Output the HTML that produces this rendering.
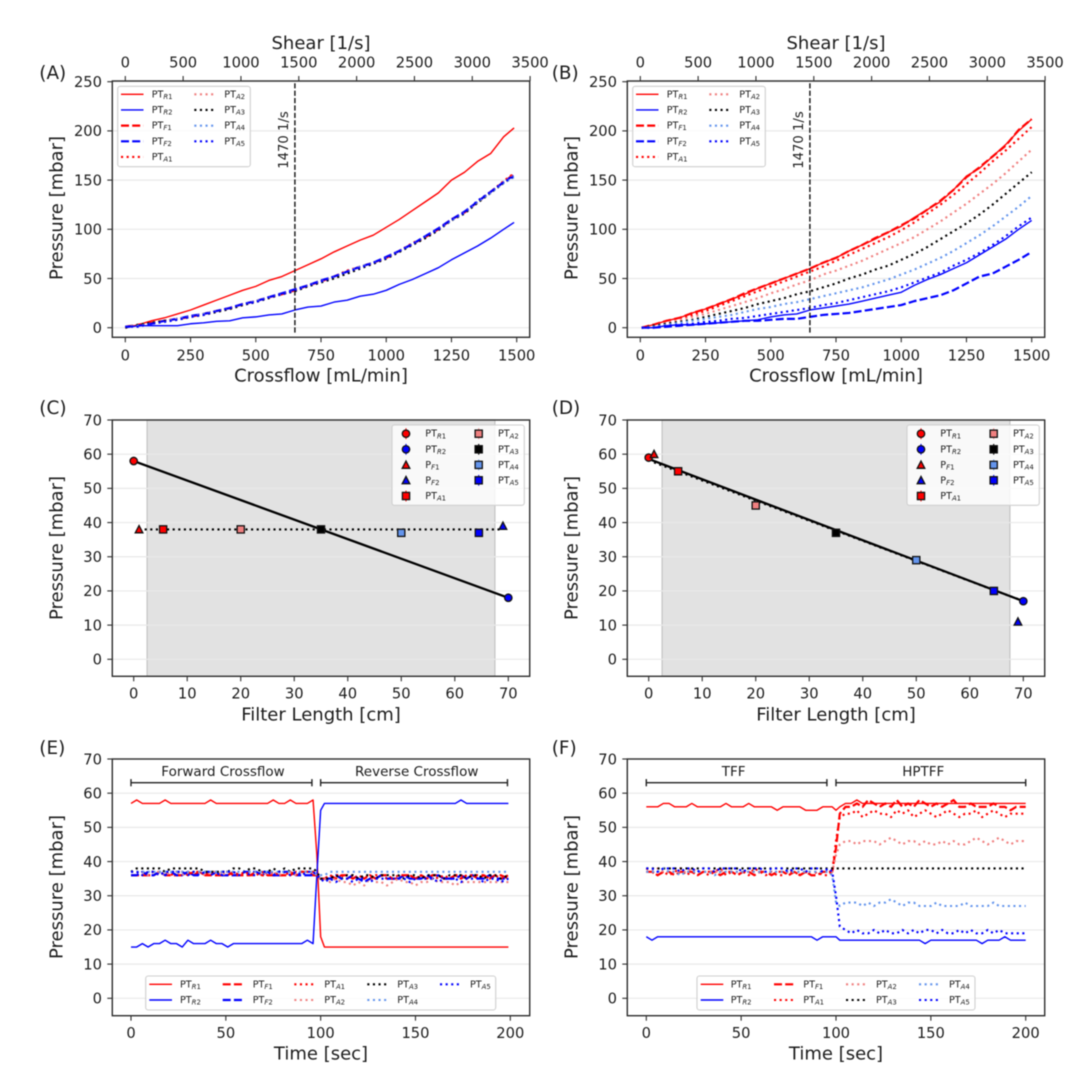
<!DOCTYPE html>
<html lang="en">
<head>
<meta charset="utf-8">
<title>Pressure profiles for crossflow filtration</title>
<style>
html,body{margin:0;padding:0;background:#fff;width:1080px;height:1080px;overflow:hidden}
svg{display:block;filter:blur(0.6px)}
text{font-family:"DejaVu Sans","Liberation Sans",sans-serif;fill:#1c1c1c}
</style>
</head>
<body>
<svg id="figure" xmlns="http://www.w3.org/2000/svg" width="1080" height="1080" viewBox="0 0 1080 1080">
<rect x="0" y="0" width="1080" height="1080" fill="#ffffff"/>
<g id="panel-a"></g>
<g id="panel-b"></g>
<g id="panel-c"></g>
<g id="panel-d"></g>
<g id="panel-e"></g>
<g id="panel-f"></g>
</svg>
<script>
/* ---------- tick labels ---------- */
const crossflowTicks = [0,250,500,750,1000,1250,1500];
const shearTicks = [0,500,1000,1500,2000,2500,3000,3500];
const pressureTicksWide = [0,50,100,150,200,250];
const pressureTicksNarrow = [0,10,20,30,40,50,60,70];
const lengthTicks = [0,10,20,30,40,50,60,70];
const timeTicks = [0,50,100,150,200];

/* ---------- panel A: crossflow sweep ---------- */
const crossflowA = [0,50,100,150,200,250,300,350,400,450,500,550,600,650,700,750,800,850,900,950,1000,1050,1100,1150,1200,1250,1300,1350,1400,1450,1490];
const aR1 = [0,3,7,10,14,18,23,28,33,38,42,48,52,58,64,70,77,83,89,94,102,110,119,128,137,150,158,169,177,194,203];
const aR2 = [0,2,2,2,2,4,5,6.5,7,10,11,13,14,18,21,22,26,28,32,34,38,44,49,55,61,69,76,83,91,100,107];
const aF1 = [1,3,5,7,9,11,14,17,20,24,27,31,34,38,43,47,52,57,62,66,71,78,85,92,100,110,117,128,138,148,156];
const aF2 = [1,2,4,7,9,12,14,17,20,24,27,31,35,39,43,48,52,57,62,66,72,78,85,93,101,110,118,128,138,148,155];
const aA1 = [0,3,5,7,9,11,14,17,20,23,27,31,34,38,43,47,52,58,62,66,71,78,86,92,100,110,117,128,138,149,157];
const aA2 = [1,3,5,7,9,11,14,17,19,23,27,30,34,38,42,47,52,57,62,65,71,78,85,92,100,109,117,127,137,148,155];
const aA3 = [0,3,5,7,8,11,13,16,19,23,26,30,34,37,42,46,50,55,60,65,70,77,84,91,99,109,116,127,137,147,154];
const aA4 = [1,2,4,6,9,11,14,17,20,24,27,31,34,38,43,47,52,57,62,66,71,78,85,93,100,109,117,128,137,147,153];
const aA5 = [1,1,4,6,8,11,13,17,20,24,26,31,34,38,43,47,52,57,61,66,71,78,85,93,100,110,117,129,138,148,154];

/* ---------- panel B: crossflow sweep ---------- */
const crossflowB = [5,50,100,150,200,250,300,350,400,450,500,550,600,650,700,750,800,850,900,950,1000,1050,1100,1150,1200,1250,1300,1350,1400,1450,1500];
const bR1 = [0,3,7,10,15,19,24,29,34,40,45,50,55,60,66,71,78,84,90,97,103,112,120,128,140,154,162,174,186,200,212];
const bR2 = [0,0,2,3,3,4,5,6,7,8,11,13,14,18,20,22,24,27,30,33,36,43,49,54,60,66,74,82,90,100,109];
const bF1 = [0,3,7,10,15,19,24,29,35,40,45,50,55,60,66,71,78,84,91,97,104,111,120,129,140,153,163,174,185,201,212];
const bF2 = [0,0,1,2,3,4,5,6,7,7,8,9,9,11,13,14,15,17,19,21,23,27,30,33,38,45,52,55,62,69,77];
const bA1 = [0,3,6,9,13,17,22,27,32,37,42,47,52,57,62,68,74,80,86,92,99,107,116,125,135,146,157,169,180,192,204];
const bA2 = [0,2,5,8,11,14,18,22,26,30,35,39,44,48,54,58,63,68,74,80,86,92,100,108,117,126,136,146,157,169,181];
const bA3 = [0,2,4,6,8,11,14,17,20,24,27,30,34,37,41,45,50,54,59,63,69,75,82,90,98,106,115,125,136,147,158];
const bA4 = [0,1,3,5,7,9,11,13,16,19,21,24,26,29,32,35,38,41,45,49,54,59,65,71,78,86,94,103,113,123,134];
const bA5 = [0,0,2,3,4,6,7,9,10,12,14,16,18,20,23,25,28,31,34,37,41,46,51,56,63,69,76,84,93,103,112];

/* ---------- panels C and D: pressure against filter length ---------- */
const sensorLength = [0,70,1,69,5.5,20,35,50,64.5];
const cPressure = [58,18,38,39,38,38,38,37,37];
const dPressure = [59,17,60,11,55,45,37,29,20];
const cFitSolidX = [0,70];
const cFitSolidY = [58,18];
const cFitDottedX = [1,69];
const cFitDottedY = [38,38];
const dFitSolidX = [0,70];
const dFitSolidY = [58.6,17];
const dFitDottedX = [1,69];
const dFitDottedY = [57.6,17.6];

/* ---------- panel E: time traces ---------- */
const timeE = [0,3,6,9,12,15,18,21,24,27,30,33,36,39,42,45,48,51,54,57,60,63,66,69,72,75,78,81,84,87,90,93,96,98,100,102,105,108,111,114,117,120,123,126,129,132,135,138,141,144,147,150,153,156,159,162,165,168,171,174,177,180,183,186,189,192,195,199];
const eR1 = [57,58,57,57,57,57,58,57,57,57,57,57,57,57,58,57,57,57,57,57,57,57,57,57,57,58,57,57,58,57,57,57,58,42,18,15,15,15,15,15,15,15,15,15,15,15,15,15,15,15,15,15,15,15,15,15,15,15,15,15,15,15,15,15,15,15,15,15];
const eR2 = [15,15,16,15,16,16,17,16,16,15,17,16,16,16,17,16,16,15,16,16,16,16,16,16,16,16,16,16,16,16,16,17,16,36,55,57,57,57,57,57,57,57,57,57,57,57,57,57,57,57,57,57,57,57,57,57,57,57,57,58,57,57,57,57,57,57,57,57];
const eF1 = [36,36,36,36,36,37,36,36,36,36,37,36,37,36,36,36,36,36,37,36,36,36,37,36,36,36,36,36,36,37,37,37,36,36,35,35,36,35,36,36,35,36,35,36,35,36,36,35,35,36,36,35,36,35,36,36,35,35,36,35,36,36,35,36,35,36,36,35];
const eF2 = [36,36,37,36,36,37,36,37,36,36,37,36,36,37,36,37,36,36,36,36,37,37,37,36,37,36,36,37,37,36,36,36,36,36,35,35,35,36,35,35,36,35,34,35,35,36,35,35,35,36,35,35,35,36,35,36,35,35,35,36,35,36,35,35,36,35,35,35];
const eA1 = [37,37,36,37,37,36,37,36,37,37,36,37,37,36,37,36,37,37,36,36,37,36,36,37,36,37,36,36,37,36,37,37,37,36,35,35,35,36,36,35,36,35,36,35,36,36,35,35,36,36,36,35,36,35,36,35,36,35,36,36,35,36,36,36,35,36,35,36];
const eA2 = [37,37,37,36,37,37,36,37,37,36,37,37,37,36,37,37,36,37,37,36,37,37,37,36,37,37,36,37,37,36,37,37,37,36,35,35,34,35,34,34,33,34,33,35,34,34,33,34,35,34,34,33,34,34,35,34,34,34,33,34,34,34,34,34,34,34,34,34];
const eA3 = [37,38,38,38,38,38,37,38,38,38,38,38,38,37,37,37,37,37,38,38,37,38,38,37,37,38,37,38,37,38,38,38,38,37,35,35,35,36,35,36,36,35,36,36,35,36,36,36,36,35,36,36,35,36,36,36,35,36,36,36,35,36,36,35,36,36,35,36];
const eA4 = [37,37,37,37,37,37,37,37,37,37,37,37,37,37,37,37,37,37,37,37,37,37,37,37,37,37,37,37,37,37,37,37,37,36,36,36,37,37,37,37,37,37,37,37,37,37,37,37,37,37,37,37,37,37,37,37,37,37,37,37,37,37,37,37,37,37,37,37];
const eA5 = [37,37,36,37,37,36,37,37,37,37,36,37,36,37,37,36,37,37,37,36,37,36,36,37,37,36,37,37,36,37,36,37,37,36,35,34,35,34,35,35,34,35,35,34,35,35,35,35,35,35,34,35,35,35,35,34,35,35,35,34,35,35,35,34,35,35,34,35];

/* ---------- panel F: time traces ---------- */
const timeF = [0,3,6,9,12,15,18,21,24,27,30,33,36,39,42,45,48,51,54,57,60,63,66,69,72,75,78,81,84,87,90,93,96,98,100,102,105,108,111,114,117,120,123,126,129,132,135,138,141,144,147,150,153,156,159,162,165,168,171,174,177,180,183,186,189,192,195,200];
const fR1 = [56,56,56,57,57,56,56,56,57,56,56,56,56,56,57,56,56,56,57,56,56,56,56,55,56,56,56,56,55,55,55,56,56,56,55,56,57,57,58,57,57,57,57,57,57,57,57,57,57,57,57,57,57,57,57,57,57,57,57,57,57,57,57,57,57,57,57,57];
const fR2 = [18,17,18,18,18,18,18,18,18,18,18,18,18,18,18,18,18,18,18,18,18,18,18,18,18,18,18,18,18,18,17,18,18,18,18,17,17,17,17,17,17,17,17,17,17,17,17,17,17,17,16,17,17,17,17,17,17,17,17,17,16,17,17,17,18,17,17,17];
const fF1 = [37,37,36,37,37,36,37,37,37,36,37,37,37,36,37,37,36,37,37,36,37,37,36,37,37,36,37,36,37,36,36,37,37,37,44,54,56,56,57,56,58,57,56,57,56,58,56,57,56,58,57,56,57,56,57,58,56,56,57,56,56,56,57,56,56,55,56,56];
const fA1 = [38,37,36,37,36,37,38,36,37,36,37,36,37,38,36,37,36,37,36,38,37,36,37,36,36,37,37,36,37,36,37,36,36,37,46,53,54,54,55,53,54,55,54,54,53,55,54,55,53,54,55,54,53,54,55,54,53,54,54,55,53,54,55,54,53,54,54,54];
const fA2 = [37,37,38,37,37,37,37,37,38,37,37,37,37,37,38,37,37,37,37,37,37,37,37,37,37,37,37,37,37,37,37,37,37,37,42,45,46,46,45,46,46,46,45,46,47,46,45,46,46,45,46,45,45,46,45,46,45,45,46,47,46,45,46,47,46,45,46,46];
const fA3 = [38,38,38,38,38,38,38,38,38,38,38,38,38,38,38,38,38,38,38,38,38,38,38,38,38,38,38,38,38,38,38,38,38,38,38,38,38,38,38,38,38,38,38,38,38,38,38,38,38,38,38,38,38,38,38,38,38,38,38,38,38,38,38,38,38,38,38,38];
const fA4 = [37,37,37,38,37,37,36,37,37,37,37,37,36,37,37,37,37,37,37,37,37,37,37,37,37,37,37,37,37,37,37,37,37,36,28,27,28,28,28,27,28,27,28,28,29,28,27,28,28,27,27,27,28,27,27,27,27,28,27,27,27,27,28,27,27,27,27,27];
const fA5 = [38,38,37,38,38,38,37,38,38,37,38,38,37,38,38,38,38,37,38,38,38,37,38,38,38,37,38,38,37,38,38,37,38,37,30,21,20,19,20,19,19,20,19,20,19,19,20,19,20,19,20,20,19,20,19,19,20,19,20,19,19,20,19,20,19,19,19,19];

/* ---------- helpers ---------- */
const NS = 'http://www.w3.org/2000/svg';
const RED = '#ff0000', BLUE = '#0000ff', CORAL = '#f08080', BLACK = '#000000', SKY = '#6495ed';
const DASH = '8 3.2', DOT = '2.1 3.5';
const INK = '#2e2e2e';

function mk(parent, tag, attrs, name) {
  const el = document.createElementNS(NS, tag);
  for (const k in attrs) el.setAttribute(k, attrs[k]);
  
  
  parent.appendChild(el);
  return el;
}
function scale(d0, d1, r0, r1) { return v => r0 + (v - d0) * (r1 - r0) / (d1 - d0); }
function label(parent, str, x, y, size, anchor, name) {
  const t = mk(parent, 'text', {x: x, y: y, 'font-size': size, 'text-anchor': anchor}, name);
  t.textContent = str;
  return t;
}
function rotLabel(parent, str, x, y, size, name) {
  const t = mk(parent, 'text', {transform: 'translate(' + x + ',' + y + ') rotate(-90)', 'font-size': size, 'text-anchor': 'middle'}, name);
  t.textContent = str;
  return t;
}
function seg(parent, x1, y1, x2, y2, color, w, name) {
  return mk(parent, 'line', {x1: x1, y1: y1, x2: x2, y2: y2, stroke: color, 'stroke-width': w}, name);
}
function drawLine(g, xs, ys, sx, sy, st, name) {
  const pts = [];
  for (let i = 0; i < ys.length && i < xs.length; i++) pts.push(sx(xs[i]).toFixed(2) + ',' + sy(ys[i]).toFixed(2));
  const attrs = {points: pts.join(' '), fill: 'none', stroke: st.c, 'stroke-width': st.w, 'stroke-linejoin': 'round'};
  if (st.d) attrs['stroke-dasharray'] = st.d;
  return mk(g, 'polyline', attrs, name);
}
function drawMarker(g, kind, px, py, fill, name) {
  const common = {fill: fill, stroke: '#111111', 'stroke-width': 1.3};
  if (kind === 'o') return mk(g, 'circle', Object.assign({cx: px, cy: py, r: 3.7}, common), name);
  if (kind === 's') return mk(g, 'rect', Object.assign({x: px - 3.6, y: py - 3.6, width: 7.2, height: 7.2}, common), name);
  return mk(g, 'polygon', Object.assign({points: (px - 3.8) + ',' + (py + 3.4) + ' ' + (px + 3.8) + ',' + (py + 3.4) + ' ' + px + ',' + (py - 3.9)}, common), name);
}
function legendText(g, x, y, main, sub, name) {
  const t = mk(g, 'text', {x: x, y: y, 'font-size': 9.6}, name);
  t.appendChild(document.createTextNode(main));
  const a = document.createElementNS(NS, 'tspan');
  a.setAttribute('font-size', 6.9);
  a.setAttribute('font-style', 'italic');
  a.setAttribute('dy', 1.6);
  a.textContent = sub[0];
  t.appendChild(a);
  const b = document.createElementNS(NS, 'tspan');
  b.setAttribute('font-size', 6.9);
  b.textContent = sub.slice(1);
  t.appendChild(b);
}
function legendBox(g, x0, y0, x1, y1) {
  const lg = mk(g, 'g', {}, 'legend');
  mk(lg, 'rect', {x: x0, y: y0, width: x1 - x0, height: y1 - y0, rx: 2.5, fill: '#ffffff', 'fill-opacity': 0.8, stroke: '#cfcfcf', 'stroke-width': 1.1}, 'legend-frame');
  return lg;
}
function lineLegend(g, box, entries) {
  const lg = legendBox(g, box[0], box[1], box[2], box[3]);
  entries.forEach(e => {
    const it = mk(lg, 'g', {}, 'legend-entry-' + e.sub.toLowerCase());
    const attrs = {x1: e.hx, x2: e.hx + e.hw, y1: e.y, y2: e.y, stroke: e.st.c, 'stroke-width': e.st.w};
    if (e.st.d) attrs['stroke-dasharray'] = e.st.d;
    mk(it, 'line', attrs, 'legend-handle');
    legendText(it, e.tx, e.y + 3, 'PT', e.sub, 'legend-label');
  });
}
function axisFrame(g, p) {
  const grid = mk(g, 'g', {}, 'grid-lines');
  p.yTicks.forEach(v => seg(grid, p.L, p.sy(v), p.R, p.sy(v), '#e9e9e9', 1.2, 'grid-line'));
  const xa = mk(g, 'g', {}, 'x-axis');
  p.xTicks.forEach(v => {
    seg(xa, p.sx(v), p.B, p.sx(v), p.B + 5, INK, 1.1, 'x-tick');
    label(xa, String(v), p.sx(v), p.xTickY, 14.7, 'middle', 'x-tick-label');
  });
  label(xa, p.xLabel, (p.L + p.R) / 2, p.xLabelY, 18, 'middle', 'x-axis-title');
  const ya = mk(g, 'g', {}, 'y-axis');
  p.yTicks.forEach(v => {
    seg(ya, p.L - 5, p.sy(v), p.L, p.sy(v), INK, 1.1, 'y-tick');
    label(ya, String(v), p.L - 10.3, p.sy(v) + 5.3, 14.7, 'end', 'y-tick-label');
  });
  rotLabel(ya, 'Pressure [mbar]', p.L - 50, p.yLabelY, 18, 'y-axis-title');
  label(g, p.tag, p.tagX, p.tagY, 18.4, 'start', 'panel-label');
}
function spines(g, p) {
  mk(g, 'rect', {x: p.L, y: p.T, width: p.R - p.L, height: p.B - p.T, fill: 'none', stroke: INK, 'stroke-width': 1.4}, 'axes-frame');
}

/* ---------- panel geometry ---------- */
function base(offsetX, T, B, yTop, yZero) {
  return {L: 112.3 + offsetX, R: 529.7 + offsetX, T: T, B: B, sy: scale(0, yTop.v, yZero, yTop.px), ox: offsetX};
}

/* ---------- sweep panels (A, B) ---------- */
function sweepPanel(id, tag, offsetX, tagX, cross, series) {
  const g = document.getElementById(id);
  const p = base(offsetX, 81, 337.3, {v: 250, px: 81.7}, 327.7);
  p.sx = scale(0, 1500, 125.3 + offsetX, 516.7 + offsetX);
  p.xTicks = crossflowTicks;
  p.yTicks = pressureTicksWide;
  p.xLabel = 'Crossflow [mL/min]';
  p.xTickY = 360.3;
  p.xLabelY = 381.5;
  p.yLabelY = 208;
  p.tag = tag; p.tagX = tagX; p.tagY = 78.8;
  axisFrame(g, p);
  const sTop = scale(0, 3500, 125.3 + offsetX, 530.1 + offsetX);
  const top = mk(g, 'g', {}, 'top-shear-axis');
  shearTicks.forEach(v => {
    seg(top, sTop(v), p.T - 5, sTop(v), p.T, INK, 1.1, 'top-tick');
    label(top, String(v), sTop(v), 67.6, 14.7, 'middle', 'top-tick-label');
  });
  label(top, 'Shear [1/s]', (p.L + p.R) / 2, 49, 18, 'middle', 'top-axis-title');
  const lines = mk(g, 'g', {}, 'pressure-series');
  series.forEach(s => drawLine(lines, cross, s.y, p.sx, p.sy, s.st, 'series-' + s.sub.toLowerCase()));
  mk(g, 'line', {x1: p.sx(650), x2: p.sx(650), y1: p.sy(-5), y2: p.T, stroke: '#111111', 'stroke-width': 1.4, 'stroke-dasharray': '5.2 2.2'}, 'shear-reference-line');
  rotLabel(g, '1470 1/s', p.sx(650) - 7, 140, 13.2, 'shear-reference-label');
  spines(g, p);
  const o = offsetX;
  const entries = series.map((s, i) => {
    const first = i < 5;
    const row = first ? i : i - 5;
    return {sub: s.sub, st: s.st, y: 94.3 + row * 15.67,
      hx: (first ? 121 : 194.3) + o, hw: first ? 22.5 : 21,
      tx: (first ? 151.7 : 224.3) + o};
  });
  lineLegend(g, [117.7 + o, 86.3, 250.3 + o, 166.7], entries);
}
function sty(sub) {
  const map = {
    R1: {c: RED, w: 1.4}, R2: {c: BLUE, w: 1.4},
    F1: {c: RED, w: 2.2, d: DASH}, F2: {c: BLUE, w: 2.2, d: DASH},
    A1: {c: RED, w: 2.1, d: DOT}, A2: {c: CORAL, w: 2.1, d: DOT},
    A3: {c: BLACK, w: 2.1, d: DOT}, A4: {c: SKY, w: 2.1, d: DOT}, A5: {c: BLUE, w: 2.1, d: DOT}
  };
  return map[sub];
}
sweepPanel('panel-a', '(A)', 0, 39.3, crossflowA, [
  {sub: 'R1', y: aR1, st: sty('R1')}, {sub: 'R2', y: aR2, st: sty('R2')},
  {sub: 'F1', y: aF1, st: sty('F1')}, {sub: 'F2', y: aF2, st: sty('F2')},
  {sub: 'A1', y: aA1, st: sty('A1')}, {sub: 'A2', y: aA2, st: sty('A2')},
  {sub: 'A3', y: aA3, st: sty('A3')}, {sub: 'A4', y: aA4, st: sty('A4')},
  {sub: 'A5', y: aA5, st: sty('A5')}
]);
sweepPanel('panel-b', '(B)', 515, 551.7, crossflowB, [
  {sub: 'R1', y: bR1, st: sty('R1')}, {sub: 'R2', y: bR2, st: sty('R2')},
  {sub: 'F1', y: bF1, st: sty('F1')}, {sub: 'F2', y: bF2, st: sty('F2')},
  {sub: 'A1', y: bA1, st: sty('A1')}, {sub: 'A2', y: bA2, st: sty('A2')},
  {sub: 'A3', y: bA3, st: sty('A3')}, {sub: 'A4', y: bA4, st: sty('A4')},
  {sub: 'A5', y: bA5, st: sty('A5')}
]);

/* ---------- profile panels (C, D) ---------- */
function profilePanel(id, tag, offsetX, tagX, pressure, sX, sY, dX, dY) {
  const g = document.getElementById(id);
  const p = base(offsetX, 420, 676.3, {v: 70, px: 420}, 659.3);
  p.sx = scale(0, 70, 133.7 + offsetX, 508.3 + offsetX);
  p.xTicks = lengthTicks;
  p.yTicks = pressureTicksNarrow;
  p.xLabel = 'Filter Length [cm]';
  p.xTickY = 698.6;
  p.xLabelY = 720.6;
  p.yLabelY = 548;
  p.tag = tag; p.tagX = tagX; p.tagY = 413.8;
  mk(g, 'rect', {x: p.sx(2.5), y: p.T, width: p.sx(67.5) - p.sx(2.5), height: p.B - p.T, fill: '#e2e2e2', stroke: '#c2c2c2', 'stroke-width': 1.1}, 'filter-shaded-region');
  axisFrame(g, p);
  const fits = mk(g, 'g', {}, 'pressure-fits');
  drawLine(fits, sX, sY, p.sx, p.sy, {c: BLACK, w: 2.3}, 'retentate-fit-line');
  drawLine(fits, dX, dY, p.sx, p.sy, {c: BLACK, w: 2.1, d: DOT}, 'axial-fit-line');
  const kinds = ['o','o','^','^','s','s','s','s','s'];
  const fills = [RED, BLUE, RED, BLUE, RED, CORAL, BLACK, SKY, BLUE];
  const names = ['pt-r1','pt-r2','p-f1','p-f2','pt-a1','pt-a2','pt-a3','pt-a4','pt-a5'];
  const mg = mk(g, 'g', {}, 'sensor-markers');
  pressure.forEach((v, i) => drawMarker(mg, kinds[i], p.sx(sensorLength[i]), p.sy(v), fills[i], 'marker-' + names[i]));
  spines(g, p);
  const o = offsetX;
  const lg = legendBox(g, 392 + o, 425, 524.3 + o, 505.3);
  const mains = ['PT','PT','P','P','PT','PT','PT','PT','PT'];
  const subs = ['R1','R2','F1','F2','A1','A2','A3','A4','A5'];
  const rows = [433.7, 449.3, 464.9, 480.3, 496];
  subs.forEach((s, i) => {
    const first = i < 5;
    const y = rows[first ? i : i - 5];
    const mx = (first ? 406 : 478.7) + o;
    const it = mk(lg, 'g', {}, 'legend-entry-' + names[i]);
    if (kinds[i] !== '^') seg(it, mx, y - 5.4, mx, y + 5.4, fills[i], 1.1, 'legend-error-bar');
    drawMarker(it, kinds[i], mx, y, fills[i], 'legend-marker');
    legendText(it, (first ? 425.3 : 498) + o, y + 3, mains[i], s, 'legend-label');
  });
}
profilePanel('panel-c', '(C)', 0, 39.3, cPressure, cFitSolidX, cFitSolidY, cFitDottedX, cFitDottedY);
profilePanel('panel-d', '(D)', 515, 551.7, dPressure, dFitSolidX, dFitSolidY, dFitDottedX, dFitDottedY);

/* ---------- time panels (E, F) ---------- */
function timePanel(id, tag, offsetX, tagX, x0, x1, time, series, brackets, legendSpec) {
  const g = document.getElementById(id);
  const p = base(offsetX, 759, 1015.7, {v: 70, px: 759}, 998.3);
  p.sx = scale(0, 200, x0, x1);
  p.xTicks = timeTicks;
  p.yTicks = pressureTicksNarrow;
  p.xLabel = 'Time [sec]';
  p.xTickY = 1038;
  p.xLabelY = 1059.5;
  p.yLabelY = 887;
  p.tag = tag; p.tagX = tagX; p.tagY = 753.8;
  axisFrame(g, p);
  const lines = mk(g, 'g', {}, 'pressure-series');
  series.forEach(s => drawLine(lines, time, s.y, p.sx, p.sy, s.st, 'series-' + s.sub.toLowerCase()));
  const br = mk(g, 'g', {}, 'phase-annotations');
  brackets.forEach(b => {
    const y = 782.7;
    const it = mk(br, 'g', {}, 'phase-bracket');
    seg(it, p.sx(b.a), y, p.sx(b.b), y, '#222222', 1.4, 'bracket-bar');
    seg(it, p.sx(b.a), y - 3.6, p.sx(b.a), y + 3.6, '#222222', 1.4, 'bracket-cap');
    seg(it, p.sx(b.b), y - 3.6, p.sx(b.b), y + 3.6, '#222222', 1.4, 'bracket-cap');
    label(it, b.text, b.tx, 776, 13.5, 'middle', 'phase-label');
  });
  spines(g, p);
  lineLegend(g, legendSpec.box, legendSpec.entries);
}
function colEntries(order, cols) {
  const res = [];
  order.forEach((s, i) => {
    const c = cols[Math.floor(i / 2)];
    res.push({sub: s, st: sty(s), y: i % 2 === 0 ? 984.3 : 1000, hx: c[0], hw: c[1] - c[0], tx: c[2]});
  });
  return res;
}
timePanel('panel-e', '(E)', 0, 39.3, 131, 510.3, timeE, [
  {sub: 'R1', y: eR1, st: sty('R1')}, {sub: 'R2', y: eR2, st: sty('R2')},
  {sub: 'F1', y: eF1, st: sty('F1')}, {sub: 'F2', y: eF2, st: sty('F2')},
  {sub: 'A1', y: eA1, st: sty('A1')}, {sub: 'A2', y: eA2, st: sty('A2')},
  {sub: 'A3', y: eA3, st: sty('A3')}, {sub: 'A4', y: eA4, st: sty('A4')},
  {sub: 'A5', y: eA5, st: sty('A5')}
], [
  {a: 0, b: 95.4, text: 'Forward Crossflow', tx: 223},
  {a: 100, b: 198.5, text: 'Reverse Crossflow', tx: 416.7}
], {
  box: [145.7, 976, 495.7, 1010],
  entries: colEntries(['R1','R2','F1','F2','A1','A2','A3','A4','A5'],
    [[149.3,172,180],[222.7,243.3,252.7],[294.3,315.7,324.3],[367.3,388.3,397.3],[440,461,470]])
});
timePanel('panel-f', '(F)', 515, 551.7, 646.3, 1025.7, timeF, [
  {sub: 'R1', y: fR1, st: sty('R1')}, {sub: 'R2', y: fR2, st: sty('R2')},
  {sub: 'F1', y: fF1, st: sty('F1')},
  {sub: 'A1', y: fA1, st: sty('A1')}, {sub: 'A2', y: fA2, st: sty('A2')},
  {sub: 'A3', y: fA3, st: sty('A3')}, {sub: 'A4', y: fA4, st: sty('A4')},
  {sub: 'A5', y: fA5, st: sty('A5')}
], [
  {a: 0, b: 95.2, text: 'TFF', tx: 733.7},
  {a: 100, b: 200, text: 'HPTFF', tx: 923.3}
], {
  box: [697, 976, 975, 1010],
  entries: colEntries(['R1','R2','F1','A1','A2','A3','A4','A5'],
    [[700.7,723.3,730.7],[774,794.3,803.3],[846,867.3,876],[919,940,949]])
});
</script>
</body>
</html>
